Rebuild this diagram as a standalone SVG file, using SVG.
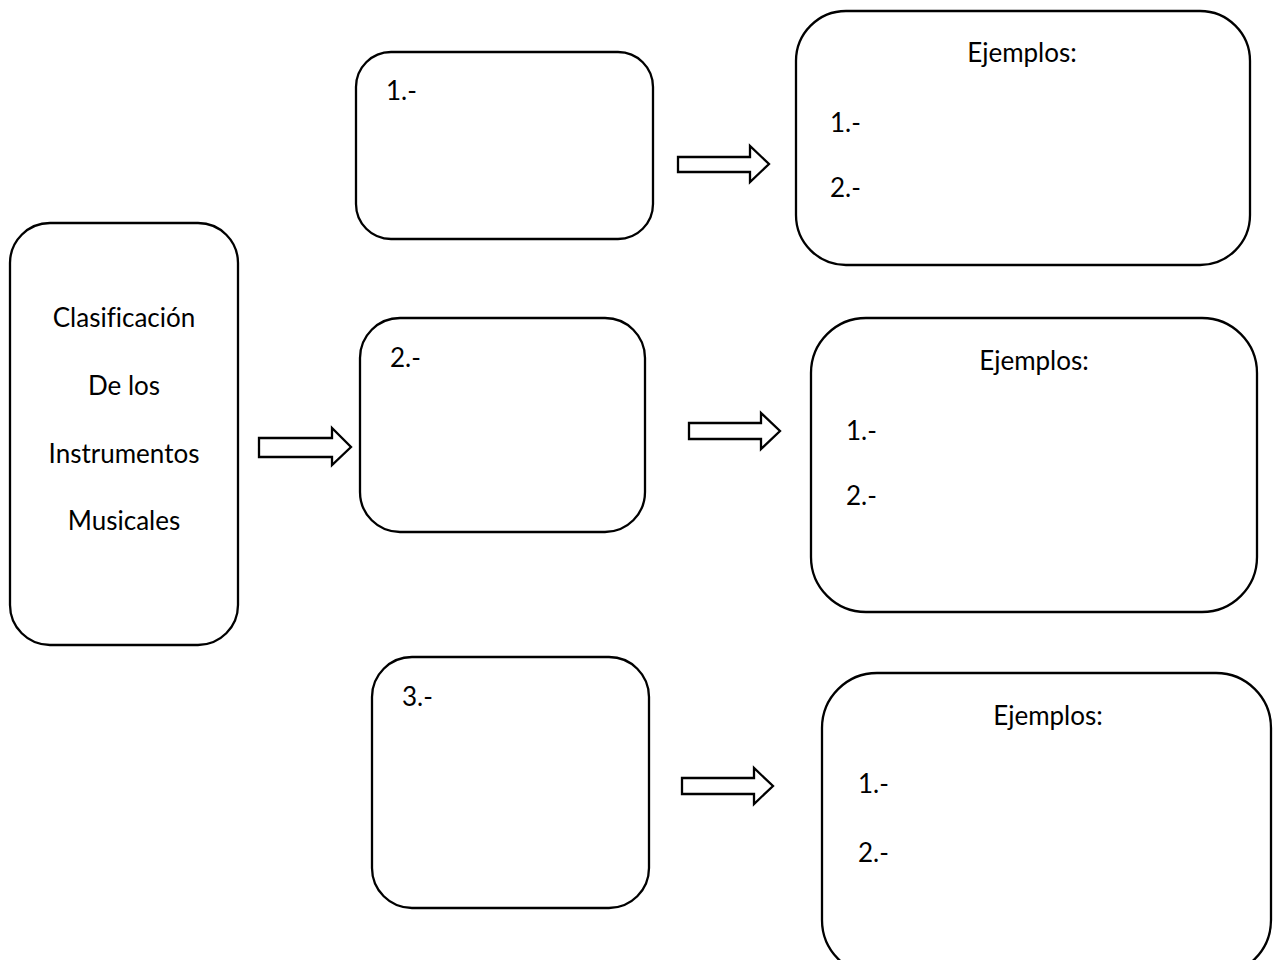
<svg xmlns="http://www.w3.org/2000/svg" width="1273" height="960" viewBox="0 0 1273 960">
<style>
.box{fill:#fff;stroke:#000;stroke-width:2.3}
.arr{fill:#fff;stroke:#000;stroke-width:2.3;stroke-linejoin:miter}
text{font-family:Lato,"Open Sans","Liberation Sans",sans-serif;font-size:26px;fill:#000;font-variant-ligatures:none}
.c{text-anchor:middle}
</style>
<rect width="1273" height="960" fill="#fff"/>
<g id="main">
<rect class="box" x="10" y="223" width="228" height="422" rx="40"/>
<text class="c" x="124" y="327">Clasificación</text>
<text class="c" x="124" y="395">De los</text>
<text class="c" x="124" y="463">Instrumentos</text>
<text class="c" x="124" y="530">Musicales</text>
</g>
<g id="cat1">
<rect class="box" x="356" y="52" width="297" height="187" rx="35"/>
<text x="386" y="100">1.-</text>
</g>
<g id="cat2">
<rect class="box" x="360" y="318" width="285" height="214" rx="40"/>
<text x="390" y="367">2.-</text>
</g>
<g id="cat3">
<rect class="box" x="372" y="657" width="277" height="251" rx="40"/>
<text x="402" y="706">3.-</text>
</g>
<g id="ej1">
<rect class="box" x="796" y="11" width="454" height="254" rx="50"/>
<text class="c" x="1022" y="62">Ejemplos:</text>
<text x="830" y="132">1.-</text>
<text x="830" y="197">2.-</text>
</g>
<g id="ej2">
<rect class="box" x="811" y="318" width="446" height="294" rx="55"/>
<text class="c" x="1034" y="370">Ejemplos:</text>
<text x="846" y="440">1.-</text>
<text x="846" y="505">2.-</text>
</g>
<g id="ej3">
<rect class="box" x="822" y="673" width="449" height="302" rx="55"/>
<text class="c" x="1048" y="725">Ejemplos:</text>
<text x="858" y="793">1.-</text>
<text x="858" y="862">2.-</text>
</g>
<g id="connectors">
<path class="arr" d="M259 438 H332 V428 L351 447 L332 465 V457 H259 Z"/>
<path class="arr" d="M678 157 H750 V146 L769 164 L750 182 V172 H678 Z"/>
<path class="arr" d="M689 423 H761 V413 L780 431 L761 449 V439 H689 Z"/>
<path class="arr" d="M682 778 H754 V768 L773 786 L754 804 V794 H682 Z"/>
</g>
</svg>
